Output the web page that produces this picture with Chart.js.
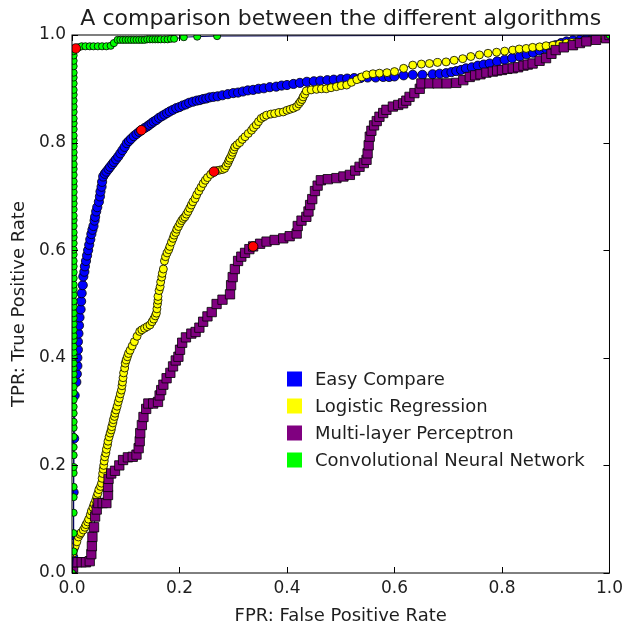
<!DOCTYPE html>
<html>
<head>
<meta charset="utf-8">
<script src="https://cdn.jsdelivr.net/npm/chart.js@4.4.1/dist/chart.umd.min.js"></script>
<style>
  html, body { margin: 0; padding: 0; background: #fff; }
</style>
</head>
<body>
<canvas id="roc" width="628" height="627"></canvas>
<script>
// ===== Data =====
const chartTitle = 'A comparison between the different algorithms';
const seriesNames = ['Easy Compare', 'Logistic Regression', 'Multi-layer Perceptron', 'Convolutional Neural Network'];
const tickValues = [0, 0.2, 0.4, 0.6, 0.8, 1.0];

const easyFpr = [0, 0.002, 0.003, 0.003, 0.004, 0.005, 0.008, 0.009, 0.01, 0.01, 0.011, 0.011, 0.012, 0.013, 0.014, 0.016, 0.017, 0.018, 0.02, 0.021, 0.023, 0.024, 0.026, 0.028, 0.03, 0.032, 0.034, 0.036, 0.038, 0.04, 0.042, 0.043, 0.045, 0.047, 0.05, 0.052, 0.053, 0.055, 0.056, 0.058, 0.061, 0.064, 0.068, 0.071, 0.075, 0.078, 0.082, 0.086, 0.09, 0.094, 0.098, 0.102, 0.106, 0.11, 0.115, 0.12, 0.125, 0.129, 0.135, 0.14, 0.144, 0.148, 0.152, 0.157, 0.162, 0.167, 0.172, 0.177, 0.182, 0.188,
    0.194, 0.2, 0.206, 0.212, 0.218, 0.225, 0.232, 0.238, 0.244, 0.25, 0.256, 0.263, 0.271, 0.28, 0.29, 0.3, 0.309, 0.318, 0.327, 0.337, 0.347, 0.357, 0.368, 0.38, 0.39, 0.4, 0.412, 0.424, 0.437, 0.45, 0.462, 0.475, 0.487, 0.5, 0.512, 0.525, 0.537, 0.55, 0.565, 0.579, 0.59, 0.6, 0.617, 0.634, 0.652, 0.671, 0.684, 0.696, 0.706, 0.715, 0.724, 0.733, 0.744, 0.755, 0.766, 0.777, 0.791, 0.805, 0.819, 0.833, 0.846, 0.858, 0.87, 0.882, 0.891, 0.9, 0.91, 0.92, 0.932, 0.945, 0.957, 0.969, 0.977, 0.985, 0.993, 1];
const easyTpr = [0, 0.03, 0.07, 0.15, 0.25, 0.33, 0.355, 0.37, 0.385, 0.4, 0.415, 0.43, 0.445, 0.46, 0.475, 0.49, 0.505, 0.52, 0.535, 0.551, 0.56, 0.57, 0.58, 0.59, 0.6, 0.61, 0.62, 0.63, 0.638, 0.645, 0.655, 0.662, 0.672, 0.68, 0.69, 0.7, 0.709, 0.718, 0.727, 0.737, 0.742, 0.746, 0.751, 0.755, 0.76, 0.764, 0.769, 0.774, 0.78, 0.786, 0.792, 0.799, 0.803, 0.807, 0.812, 0.816, 0.82, 0.823, 0.827, 0.83, 0.833, 0.836, 0.839, 0.842, 0.846, 0.849, 0.852, 0.855, 0.858, 0.861,
    0.864, 0.866, 0.869, 0.871, 0.874, 0.876, 0.878, 0.879, 0.881, 0.882, 0.884, 0.885, 0.886, 0.888, 0.89, 0.892, 0.893, 0.895, 0.897, 0.898, 0.9, 0.901, 0.903, 0.904, 0.906, 0.907, 0.909, 0.911, 0.913, 0.914, 0.915, 0.916, 0.917, 0.918, 0.919, 0.92, 0.92, 0.921, 0.921, 0.922, 0.922, 0.923, 0.925, 0.926, 0.926, 0.927, 0.928, 0.929, 0.931, 0.933, 0.935, 0.938, 0.94, 0.943, 0.945, 0.947, 0.951, 0.954, 0.957, 0.96, 0.964, 0.967, 0.971, 0.975, 0.978, 0.981, 0.985, 0.988, 0.99, 0.991, 0.993, 0.994, 0.996, 0.997, 0.999, 1];

const lrFpr = [0, 0.001, 0.002, 0.004, 0.006, 0.009, 0.012, 0.015, 0.017, 0.021, 0.024, 0.026, 0.029, 0.031, 0.034, 0.036, 0.039, 0.041, 0.044, 0.046, 0.048, 0.05, 0.053, 0.055, 0.056, 0.057, 0.058, 0.059, 0.06, 0.061, 0.063, 0.064, 0.066, 0.067, 0.069, 0.071, 0.073, 0.074, 0.076, 0.077, 0.079, 0.08, 0.082, 0.084, 0.086, 0.088, 0.09, 0.092, 0.093, 0.094, 0.095, 0.096, 0.098, 0.099, 0.101, 0.103, 0.105, 0.108, 0.112, 0.116, 0.121, 0.126, 0.13, 0.135, 0.14, 0.145, 0.149, 0.152, 0.155, 0.157, 0.158, 0.159, 0.16, 0.16, 0.162, 0.164, 0.165, 0.167, 0.168, 0.17, 0.172, 0.174, 0.177, 0.18, 0.182, 0.185, 0.188, 0.19, 0.193, 0.195, 0.198, 0.201, 0.204, 0.207, 0.21, 0.213, 0.216, 0.219, 0.222, 0.225, 0.229, 0.232, 0.236, 0.24, 0.244, 0.248, 0.252, 0.258, 0.264, 0.27, 0.275, 0.28, 0.284, 0.287, 0.29, 0.292, 0.294, 0.297, 0.299, 0.301, 0.303, 0.307, 0.312, 0.317, 0.322, 0.328, 0.334, 0.338, 0.343, 0.347, 0.352, 0.357, 0.362,
    0.37, 0.377, 0.385, 0.393, 0.4, 0.406, 0.412, 0.418, 0.422, 0.425, 0.428, 0.43, 0.433, 0.436, 0.445, 0.455, 0.464, 0.473, 0.482, 0.492, 0.501, 0.511, 0.52, 0.53, 0.539, 0.548, 0.56, 0.572, 0.586, 0.6, 0.617, 0.634, 0.65, 0.665, 0.68, 0.696, 0.711, 0.727, 0.742, 0.758, 0.774, 0.79, 0.805, 0.82, 0.832, 0.845, 0.857, 0.87, 0.882, 0.895, 0.907, 0.92, 0.93, 0.94, 0.952, 0.965, 0.975, 0.985, 1];
const lrTpr = [0, 0.02, 0.037, 0.045, 0.05, 0.058, 0.067, 0.072, 0.075, 0.08, 0.085, 0.09, 0.095, 0.1, 0.108, 0.115, 0.122, 0.128, 0.135, 0.142, 0.148, 0.155, 0.161, 0.167, 0.176, 0.185, 0.193, 0.2, 0.208, 0.216, 0.223, 0.23, 0.238, 0.245, 0.253, 0.26, 0.266, 0.272, 0.279, 0.285, 0.291, 0.297, 0.303, 0.31, 0.318, 0.325, 0.333, 0.34, 0.348, 0.355, 0.363, 0.372, 0.381, 0.39, 0.396, 0.402, 0.408, 0.414, 0.422, 0.43, 0.44, 0.449, 0.452, 0.455, 0.458, 0.461, 0.467, 0.472, 0.478, 0.483, 0.491, 0.5, 0.507, 0.514, 0.525, 0.532, 0.541, 0.55, 0.557, 0.565, 0.58, 0.588, 0.595, 0.601, 0.607, 0.615, 0.622, 0.628, 0.633, 0.639, 0.644, 0.65, 0.655, 0.659, 0.662, 0.667, 0.672, 0.678, 0.684, 0.69, 0.696, 0.703, 0.71, 0.717, 0.724, 0.73, 0.735, 0.741, 0.746, 0.748, 0.749, 0.75, 0.752, 0.757, 0.762, 0.767, 0.771, 0.777, 0.782, 0.787, 0.792, 0.796, 0.8, 0.806, 0.811, 0.817, 0.823, 0.828, 0.833, 0.839, 0.845, 0.848, 0.851,
    0.853, 0.854, 0.856, 0.857, 0.86, 0.862, 0.864, 0.867, 0.872, 0.876, 0.88, 0.885, 0.89, 0.896, 0.898, 0.899, 0.9, 0.9, 0.902, 0.904, 0.906, 0.907, 0.912, 0.917, 0.922, 0.926, 0.928, 0.929, 0.93, 0.932, 0.938, 0.944, 0.946, 0.947, 0.949, 0.95, 0.953, 0.956, 0.96, 0.963, 0.966, 0.968, 0.97, 0.972, 0.974, 0.975, 0.977, 0.978, 0.98, 0.981, 0.983, 0.985, 0.986, 0.987, 0.989, 0.99, 0.992, 0.995, 1];

const mlpFpr = [0, 0.002, 0.003, 0.01, 0.018, 0.026, 0.033, 0.036, 0.037, 0.038, 0.041, 0.043, 0.046, 0.049, 0.057, 0.064, 0.067, 0.067, 0.068, 0.073, 0.08, 0.088, 0.095, 0.104, 0.113, 0.12, 0.124, 0.126, 0.127, 0.13, 0.133, 0.138, 0.142, 0.151, 0.16, 0.163, 0.166, 0.17, 0.176, 0.183, 0.188, 0.193, 0.198, 0.201, 0.205, 0.212, 0.222, 0.23, 0.237, 0.244, 0.252, 0.26, 0.269, 0.28, 0.294, 0.296, 0.299, 0.303, 0.309, 0.315, 0.322, 0.33, 0.337, 0.35, 0.362, 0.377, 0.393, 0.405, 0.418, 0.42, 0.427, 0.436, 0.44, 0.443, 0.447, 0.452, 0.457, 0.463, 0.476, 0.492, 0.505, 0.517, 0.527, 0.535, 0.543, 0.548, 0.55, 0.552, 0.554, 0.557, 0.562, 0.567, 0.572, 0.579, 0.585, 0.597, 0.607, 0.616, 0.622, 0.628, 0.637, 0.647, 0.65, 0.665, 0.68, 0.697, 0.715, 0.728, 0.74, 0.75, 0.76, 0.771, 0.783, 0.791, 0.8, 0.81, 0.82, 0.83, 0.84, 0.848, 0.857, 0.87, 0.882, 0.892, 0.9, 0.915, 0.932, 0.945, 0.957, 0.975, 0.994, 1];
const mlpTpr = [0, 0.01, 0.02, 0.02, 0.02, 0.02, 0.022, 0.035, 0.05, 0.067, 0.085, 0.105, 0.118, 0.13, 0.13, 0.13, 0.145, 0.16, 0.175, 0.185, 0.19, 0.2, 0.21, 0.215, 0.216, 0.22, 0.232, 0.245, 0.26, 0.275, 0.29, 0.305, 0.315, 0.315, 0.318, 0.33, 0.34, 0.35, 0.362, 0.372, 0.384, 0.395, 0.402, 0.415, 0.428, 0.438, 0.445, 0.448, 0.456, 0.467, 0.477, 0.485, 0.5, 0.508, 0.518, 0.535, 0.55, 0.565, 0.58, 0.588, 0.595, 0.602, 0.607, 0.612, 0.616, 0.619, 0.622, 0.626, 0.631, 0.645, 0.655, 0.662, 0.672, 0.684, 0.695, 0.71, 0.72, 0.73, 0.732, 0.734, 0.737, 0.74, 0.748, 0.755, 0.762, 0.768, 0.78, 0.795, 0.811, 0.822, 0.832, 0.84, 0.848, 0.855, 0.861, 0.867, 0.87, 0.873, 0.878, 0.885, 0.892, 0.9, 0.91, 0.91, 0.91, 0.91, 0.911, 0.916, 0.922, 0.925, 0.927, 0.93, 0.932, 0.934, 0.935, 0.937, 0.938, 0.94, 0.943, 0.945, 0.947, 0.952, 0.957, 0.965, 0.972, 0.977, 0.981, 0.985, 0.988, 0.991, 0.994, 1];

const cnnFpr = [0, 0.003, 0.003, 0.003, 0.003, 0.003, 0.003, 0.003, 0.003, 0.003, 0.003, 0.003, 0.003, 0.003, 0.003, 0.003, 0.003, 0.003, 0.003, 0.003, 0.003, 0.003, 0.003, 0.003, 0.003, 0.003, 0.003, 0.003, 0.003, 0.003, 0.003, 0.003, 0.003, 0.003, 0.003, 0.003, 0.003, 0.003, 0.003, 0.003, 0.003, 0.003, 0.003, 0.003, 0.003, 0.003, 0.003, 0.003, 0.003, 0.003, 0.003, 0.003, 0.003, 0.003, 0.003, 0.003, 0.003, 0.003, 0.003, 0.003, 0.003, 0.003, 0.003, 0.003, 0.003, 0.003, 0.003, 0.003, 0.003, 0.003, 0.003, 0.003, 0.003, 0.003, 0.003, 0.003, 0.003, 0.003, 0.012, 0.018, 0.025, 0.033, 0.04, 0.048, 0.056, 0.064, 0.072, 0.078, 0.085, 0.09, 0.095, 0.1, 0.105, 0.11, 0.115, 0.12, 0.125, 0.13, 0.135, 0.14, 0.145, 0.15, 0.155, 0.16, 0.165, 0.172, 0.178, 0.184, 0.19, 0.208, 0.233, 0.27, 1];
const cnnTpr = [0, 0.04, 0.074, 0.112, 0.141, 0.16, 0.186, 0.197, 0.219, 0.234, 0.253, 0.27, 0.281, 0.297, 0.309, 0.322, 0.335, 0.346, 0.359, 0.37, 0.381, 0.39, 0.402, 0.41, 0.421, 0.433, 0.441, 0.452, 0.463, 0.474, 0.483, 0.495, 0.505, 0.517, 0.528, 0.536, 0.548, 0.559, 0.57, 0.58, 0.592, 0.601, 0.613, 0.624, 0.633, 0.645, 0.656, 0.664, 0.676, 0.687, 0.697, 0.708, 0.719, 0.728, 0.74, 0.751, 0.76, 0.772, 0.782, 0.793, 0.804, 0.813, 0.825, 0.836, 0.845, 0.857, 0.867, 0.878, 0.889, 0.898, 0.91, 0.921, 0.93, 0.942, 0.952, 0.962, 0.97, 0.975, 0.977, 0.979, 0.979, 0.979, 0.979, 0.979, 0.979, 0.979, 0.98, 0.985, 0.991, 0.991, 0.991, 0.991, 0.991, 0.991, 0.991, 0.991, 0.991, 0.991, 0.991, 0.992, 0.992, 0.992, 0.992, 0.992, 0.992, 0.992, 0.992, 0.993, 0.993, 0.996, 0.997, 0.998, 1];

// red markers: chosen operating point on each curve
const optFpr = [0.129, 0.264, 0.337, 0.007];
const optTpr = [0.823, 0.746, 0.607, 0.975];

// ===== Helpers =====
const FONT = '"DejaVu Sans", "Bitstream Vera Sans", sans-serif';
const TEXT = '#1e1e1e';

function toPoints(fpr, tpr) {
    const n = Math.min(fpr.length, tpr.length);
    return fpr.slice(0, n).map((x, i) => ({ x: x, y: tpr[i] }));
}

function curve(label, fpr, tpr, color, style, radius, order) {
    return {
        label: label,
        data: toPoints(fpr, tpr),
        showLine: true,
        borderColor: '#00005a',
        borderWidth: 1,
        pointStyle: style,
        pointRadius: radius,
        pointBackgroundColor: color,
        pointBorderColor: '#000',
        pointBorderWidth: 0.8,
        clip: 0,
        order: order
    };
}

// frame + inward ticks on all four sides, like matplotlib classic
const framePlugin = {
    id: 'frame',
    afterDatasetsDraw(chart) {
        const { ctx, chartArea: a, scales } = chart;
        const len = 6;
        ctx.save();
        ctx.strokeStyle = '#000';
        ctx.lineWidth = 1;
        ctx.strokeRect(a.left, a.top, a.right - a.left, a.bottom - a.top);
        ctx.beginPath();
        tickValues.forEach(v => {
            const x = Math.round(scales.x.getPixelForValue(v)) + 0.5;
            ctx.moveTo(x, a.bottom); ctx.lineTo(x, a.bottom - len);
            ctx.moveTo(x, a.top); ctx.lineTo(x, a.top + len);
            const y = Math.round(scales.y.getPixelForValue(v)) + 0.5;
            ctx.moveTo(a.left, y); ctx.lineTo(a.left + len, y);
            ctx.moveTo(a.right, y); ctx.lineTo(a.right - len, y);
        });
        ctx.stroke();
        ctx.restore();
    }
};

// legend drawn inside the plot, lower middle
const legendPlugin = {
    id: 'insideLegend',
    afterDraw(chart) {
        const { ctx, chartArea: a } = chart;
        const x0 = a.left + 215;
        let y = a.top + 344;
        ctx.save();
        ctx.font = '18px ' + FONT;
        ctx.textBaseline = 'middle';
        chart.data.datasets.slice(0, 4).forEach(ds => {
            ctx.fillStyle = ds.pointBackgroundColor;
            ctx.fillRect(x0, y - 7.5, 15, 15);
            ctx.fillStyle = TEXT;
            ctx.fillText(ds.label, x0 + 28, y + 1);
            y += 27;
        });
        ctx.restore();
    }
};

const datasets = [
    curve(seriesNames[0], easyFpr, easyTpr, '#0000ff', 'circle', 4.6, 5),
    curve(seriesNames[1], lrFpr, lrTpr, '#ffff00', 'circle', 4.0, 4),
    curve(seriesNames[2], mlpFpr, mlpTpr, '#800080', 'rect', 6.6, 3),
    curve(seriesNames[3], cnnFpr, cnnTpr, '#00ff00', 'circle', 3.6, 2),
    {
        label: 'optimal',
        data: toPoints(optFpr, optTpr),
        showLine: false,
        pointStyle: 'circle',
        pointRadius: 4.8,
        pointBackgroundColor: '#ff0000',
        pointBorderColor: '#000',
        pointBorderWidth: 0.8,
        clip: 0,
        order: 1
    }
];

new Chart(document.getElementById('roc'), {
    type: 'scatter',
    data: { datasets: datasets },
    options: {
        responsive: false,
        animation: false,
        events: [],
        layout: { padding: { left: 0, right: 18, top: 0, bottom: 0 } },
        plugins: {
            legend: { display: false },
            tooltip: { enabled: false },
            title: {
                display: true,
                text: chartTitle,
                fullSize: false,
                color: TEXT,
                font: { family: FONT, size: 22, weight: 'normal' },
                padding: { top: 6, bottom: 2.6 }
            }
        },
        scales: {
            x: {
                type: 'linear',
                min: 0,
                max: 1,
                grid: { display: false, drawTicks: false },
                border: { display: false },
                afterFit(scale) { scale.height = 54; },
                afterBuildTicks(scale) { scale.ticks = tickValues.map(v => ({ value: v })); },
                ticks: {
                    padding: 5,
                    color: TEXT,
                    font: { family: FONT, size: 17 },
                    callback: v => v.toFixed(1)
                },
                title: {
                    display: true,
                    text: 'FPR: False Positive Rate',
                    color: TEXT,
                    font: { family: FONT, size: 18 },
                    padding: { top: 4, bottom: 0 }
                }
            },
            y: {
                type: 'linear',
                min: 0,
                max: 1,
                grid: { display: false, drawTicks: false },
                border: { display: false },
                afterFit(scale) { scale.width = 72; },
                afterBuildTicks(scale) { scale.ticks = tickValues.map(v => ({ value: v })); },
                ticks: {
                    padding: 6,
                    color: TEXT,
                    font: { family: FONT, size: 17 },
                    callback: v => v.toFixed(1)
                },
                title: {
                    display: true,
                    text: 'TPR: True Positive Rate',
                    color: TEXT,
                    font: { family: FONT, size: 18 },
                    padding: { top: 9, bottom: 0 }
                }
            }
        }
    },
    plugins: [framePlugin, legendPlugin]
});
</script>
</body>
</html>
